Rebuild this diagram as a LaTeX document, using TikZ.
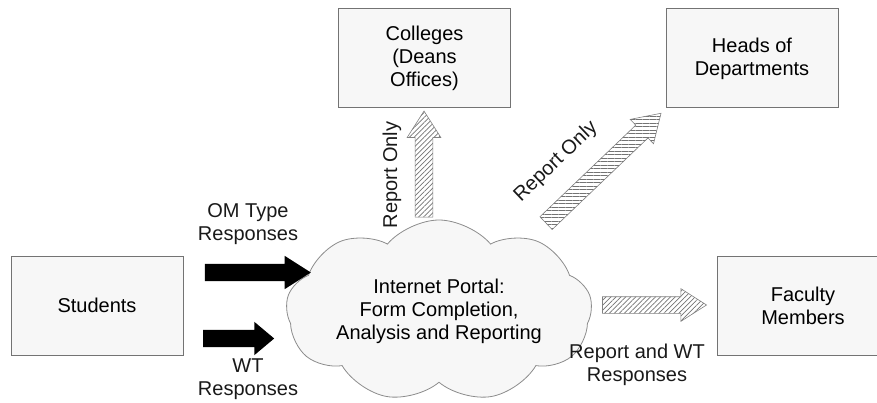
\documentclass[tikz,border=0pt]{standalone}
\usepackage{fontspec}
\setmainfont{Liberation Sans}
\usetikzlibrary{positioning,shapes.symbols,shapes.arrows,patterns.meta}

\begin{document}
\begin{tikzpicture}[x=1pt, y=-1pt, inner sep=0pt, font=\fontsize{20}{23}\selectfont]
	\tikzset{rect/.style={draw=black!55,line width=1pt,fill=black!3,minimum width=172pt,minimum height=99pt,align=center}}
	\tikzset{fat/.style={single arrow,draw=none,fill=black,inner xsep=0pt,inner ysep=8.5pt,single arrow head extend=8pt,single arrow tip angle=65,minimum width=0pt}}
	\tikzset{hatch/.style={single arrow,draw=black!50,line width=0.6pt,inner xsep=0pt,inner ysep=8.5pt,single arrow head extend=8pt,single arrow tip angle=65,minimum width=0pt,pattern={Lines[angle=45,distance=3.5pt,line width=0.7pt]},pattern color=black!55}}
	\tikzset{lbl/.style={align=center,text=black!90}}
	% Frame
	\useasboundingbox (0,0) rectangle (877,403);

	% Boxes
	\node[rect] (students) at (97,305.5) {Students};
	\node[rect] (colleges) at (424.5,58.5) {Colleges\\(Deans\\Offices)};
	\node[rect] (heads) at (752,58.5) {Heads of\\Departments};
	\node[rect] (faculty) at (803,305.5) {Faculty\\Members};
	% Portal
	\node[cloud, draw=black!45, line width=0.8pt, fill=black!3, cloud puffs=9, cloud puff arc=100, cloud ignores aspect, minimum width=306pt, minimum height=182pt, align=center] (portal) at (439,311) {Internet Portal:\\Form Completion,\\Analysis and Reporting};

	% Arrows
	\node[fat, minimum height=106pt] (omarrow) at (251,272.5) {};
	\node[fat, minimum height=71pt, single arrow tip angle=80] (wtarrow) at (233.5,338.5) {};
	\node[hatch, minimum height=106pt, rotate=90] (collarrow) at (424,171) {};
	\node[hatch, minimum height=159pt, rotate=43.7, pattern={Lines[angle=0,distance=3.5pt,line width=0.7pt]}] (headarrow) at (598.5,173) {};
	\node[hatch, minimum height=104pt, inner ysep=8pt] (facarrow) at (648,305) {};

	% Labels
	\node[lbl] (omlbl) at (248,224) {OM Type\\Responses};
	\node[lbl] (wtlbl) at (248,379) {WT\\Responses};
	\node[lbl, rotate=90] (colllbl) at (392,175) {Report Only};
	\node[lbl, rotate=43.7] (headlbl) at (556,162) {Report Only};
	\node[lbl] (faclbl) at (637,364.5) {Report and WT\\Responses};
\end{tikzpicture}
\end{document}
